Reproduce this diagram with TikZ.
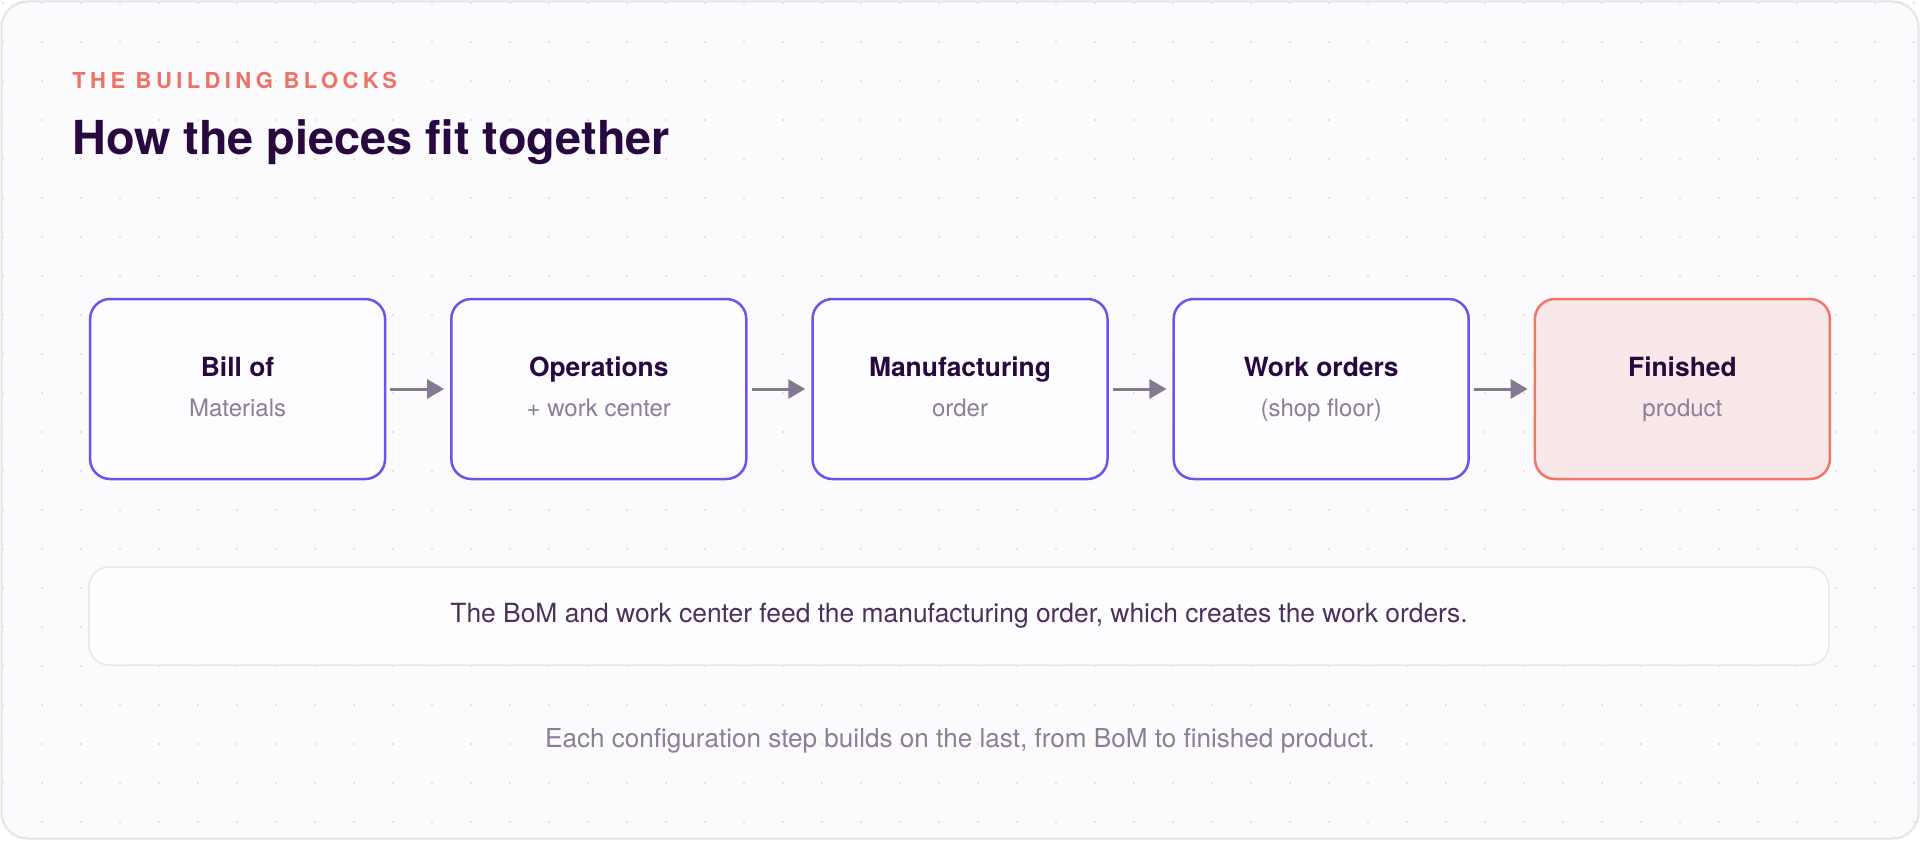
\documentclass[tikz,border=0pt]{standalone}
\usepackage{fontspec}
\setmainfont{TeX Gyre Heros}
\newfontfamily\eyebrowfont[LetterSpace=20]{TeX Gyre Heros}
\usetikzlibrary{arrows.meta}
\definecolor{bgc}{HTML}{FBFAFD}
\definecolor{cardline}{HTML}{E9E1E8}
\definecolor{dotc}{HTML}{F3DAE5}
\definecolor{coral}{HTML}{F07264}
\definecolor{ink}{HTML}{28093F}
\definecolor{violet}{HTML}{6757E8}
\definecolor{boxfill}{HTML}{FDFCFF}
\definecolor{finfill}{HTML}{F8E8EA}
\definecolor{finline}{HTML}{F27566}
\definecolor{muted}{HTML}{8C7D98}
\definecolor{arrowc}{HTML}{857893}
\definecolor{capline}{HTML}{EDE5E9}
\definecolor{captext}{HTML}{4B3159}
\tikzset{
  stepbox/.style={draw=violet, line width=1.25pt, fill=boxfill, rounded corners=10pt,
    minimum width=147.5pt, minimum height=90pt, inner sep=0pt},
  finbox/.style={stepbox, draw=finline, fill=finfill},
  boxtitle/.style={anchor=base, text=ink, font=\fontsize{13.2pt}{15pt}\selectfont\bfseries, inner sep=0pt},
  boxsub/.style={anchor=base, text=muted, font=\fontsize{12pt}{14pt}\selectfont, inner sep=0pt},
  flow/.style={draw=arrowc, line width=1.5pt, -{Triangle[length=8.5pt,width=9.5pt]},
    shorten <=2pt, shorten >=3pt}
}
\begin{document}
\begin{tikzpicture}[x=0.5pt,y=-0.5pt]
\useasboundingbox (0,0) rectangle (1920,840);
% card
\fill[white] (0,0) rectangle (1920,840);
\draw[cardline, fill=bgc, line width=1pt, rounded corners=13pt] (1.5,1.5) rectangle (1918.5,838.5);
% dot grid
\foreach \i in {0,...,49} {
  \foreach \j in {0,...,21} {
    \fill[dotc] ({3+39*\i-1},{2.7+39*\j-1}) rectangle ++(2,2);
  }
}
% heading
\node[anchor=base west, inner sep=0pt, text=coral, font=\eyebrowfont\fontsize{11pt}{13pt}\selectfont\bfseries] (eyebrow) at (72,89) {THE BUILDING BLOCKS};
\node[anchor=base west, inner sep=0pt, text=ink, font=\fontsize{23.4pt}{27pt}\selectfont\bfseries] (title) at (72,155) {How the pieces fit together};
% boxes
\node[stepbox] (b1) at (237.6,389) {};
\node[stepbox] (b2) at (598.8,389) {};
\node[stepbox] (b3) at (960,389) {};
\node[stepbox] (b4) at (1321.2,389) {};
\node[finbox]  (b5) at (1682.4,389) {};
\node[boxtitle] (t1) at (237.6,376) {Bill of};
\node[boxsub]   (s1) at (237.6,416) {Materials};
\node[boxtitle] (t2) at (598.8,376) {Operations};
\node[boxsub]   (s2) at (598.8,416) {+ work center};
\node[boxtitle] (t3) at (960,376) {Manufacturing};
\node[boxsub]   (s3) at (960,416) {order};
\node[boxtitle] (t4) at (1321.2,376) {Work orders};
\node[boxsub]   (s4) at (1321.2,416) {(shop floor)};
\node[boxtitle] (t5) at (1682.4,376) {Finished};
\node[boxsub]   (s5) at (1682.4,416) {product};
% arrows
\draw[flow] (b1.east) -- (b2.west);
\draw[flow] (b2.east) -- (b3.west);
\draw[flow] (b3.east) -- (b4.west);
\draw[flow] (b4.east) -- (b5.west);
% caption
\node[draw=capline, line width=0.75pt, fill=boxfill, rounded corners=10pt,
  minimum width=870pt, minimum height=49pt, inner sep=0pt] (capbox) at (959,616) {};
\node[text=captext, font=\fontsize{13.2pt}{15pt}\selectfont, inner sep=0pt] (captxt) at (capbox.center) {The BoM and work center feed the manufacturing order, which creates the work orders.};
% footer
\node[text=muted, font=\fontsize{13.05pt}{15pt}\selectfont, inner sep=0pt] (footer) at (960,741) {Each configuration step builds on the last, from BoM to finished product.};
\end{tikzpicture}
\end{document}
